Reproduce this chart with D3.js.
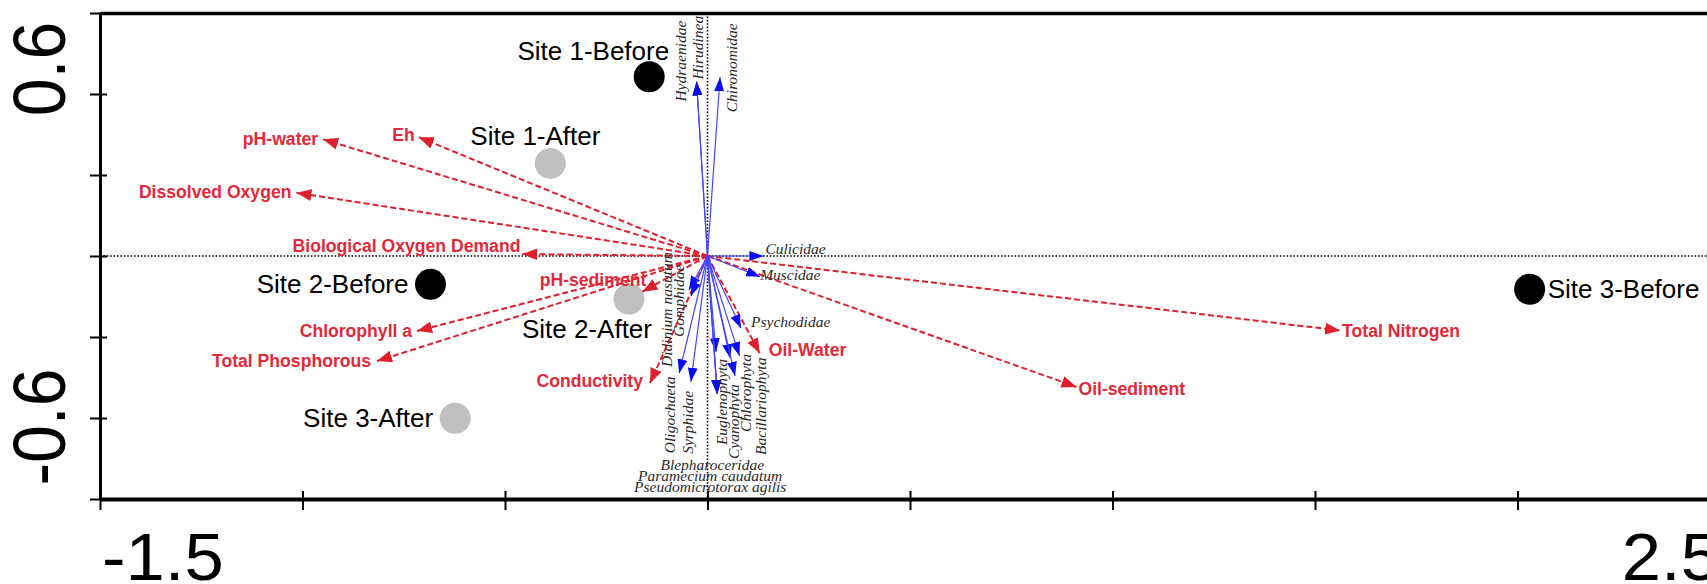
<!DOCTYPE html>
<html><head><meta charset="utf-8">
<script src="https://cdn.jsdelivr.net/npm/d3@7"></script>
<style>html,body{margin:0;padding:0;background:#fff;overflow:hidden}</style>
</head><body>
<svg id="chart" width="1707" height="584"></svg>
<script>
// ---------------- data ----------------
const siteNames  = ["Site 1-Before","Site 1-After","Site 2-Before","Site 2-After","Site 3-Before","Site 3-After"];
const siteX      = [-0.144, -0.388, -0.684, -0.194, 2.030, -0.623];
const siteY      = [ 0.664,  0.343, -0.105, -0.159, -0.123, -0.601];
const sitePeriod = ["Before","After","Before","After","Before","After"];

const envNames = ["pH-water","Eh","Dissolved Oxygen","Biological Oxygen Demand","pH-sediment",
                  "Chlorophyll a","Total Phosphorous","Conductivity","Oil-Water","Oil-sediment","Total Nitrogen"];
const envX = [-0.949, -0.713, -1.015, -0.457, -0.161, -0.717, -0.816, -0.142, 0.129, 0.911, 1.562];
const envY = [ 0.432,  0.440,  0.234,  0.007, -0.132, -0.278, -0.389, -0.471, -0.360, -0.485, -0.276];

const taxaNames = ["Hydraenidae","Hirudinea","Chironomidae","Culicidae","Muscidae","Psychodidae",
                   "Didinium nasutum","Gomphidae","Oligochaeta","Syrphidae","Euglenophyta","Cyanophyta",
                   "Chlorophyta","Bacillariophyta","Blepharoceridae","Paramecium caudatum","Pseudomicrotorax agilis"];
const taxaX = [-0.027, -0.027, 0.031, 0.138, 0.130, 0.083, -0.046, -0.041, -0.070, -0.041, 0.021, 0.056,
               0.079, 0.068, 0.024, 0.024, 0.024];
const taxaY = [ 0.646,  0.646, 0.662, 0.000, -0.077, -0.268, -0.126, -0.148, -0.434, -0.466, -0.356, -0.378,
               -0.370, -0.444, -0.511, -0.511, -0.511];

const xDomain = [-1.5, 2.5];
const yDomain = [-0.9, 0.9];
const xTicks = [-1.5, -1, -0.5, 0, 0.5, 1, 1.5, 2, 2.5];
const yTicks = [-0.9, -0.6, -0.3, 0, 0.3, 0.6, 0.9];
const xTickLabelValues = [-1.5, 2.5];
const xTickLabels = ["-1.5", "2.5"];
const yTickLabelValues = [0.6, -0.6];
const yTickLabels = ["0.6", "-0.6"];

// ---------------- layout / style ----------------
const RED = "#e01f2d", RED_TXT = "#e3283a", BLUE_LINE = "#4646ff", BLUE_HEAD = "#0c0cf2";
const SANS = "'Liberation Sans', Arial, sans-serif";
const SERIF = "'Liberation Serif', 'Times New Roman', serif";

const svg = d3.select("#chart");
svg.append("rect").attr("width",1707).attr("height",584).attr("fill","#fff");

const x = d3.scaleLinear().domain(xDomain).range([100, 1720]);
const y = d3.scaleLinear().domain(yDomain).range([499, 13]);

const defs = svg.append("defs");
function marker(id, color, len, half){
  defs.append("marker").attr("id", id)
    .attr("viewBox", `0 ${-half} ${len} ${half*2}`)
    .attr("refX", len).attr("refY", 0)
    .attr("markerWidth", len).attr("markerHeight", half*2)
    .attr("markerUnits","userSpaceOnUse").attr("orient","auto")
    .append("path").attr("d", `M0,${-half}L${len},0L0,${half}Z`).attr("fill", color);
}
marker("hRed", RED, 15, 6);
marker("hBlue", BLUE_HEAD, 14, 5);

// reference dotted lines
svg.append("line").attr("x1", x(xDomain[0])).attr("x2", 1707).attr("y1", y(0)).attr("y2", y(0))
  .attr("stroke","#000").attr("stroke-width",1.6).attr("stroke-dasharray","1.6,1.8");
svg.append("line").attr("x1", x(0)).attr("x2", x(0)).attr("y1", y(yDomain[1])).attr("y2", y(yDomain[0]))
  .attr("stroke","#000").attr("stroke-width",1.6).attr("stroke-dasharray","1.6,1.8");

// axes
const gx = svg.append("g").attr("transform",`translate(0,${y(yDomain[0])})`)
  .call(d3.axisBottom(x).tickValues(xTicks).tickSize(19).tickSizeOuter(0).tickFormat(""));
gx.select(".domain").attr("stroke","#000").attr("stroke-width",4);
gx.selectAll(".tick line").attr("y1",-8).attr("y2",11).attr("stroke","#000").attr("stroke-width",2);

const gt = svg.append("g").attr("transform",`translate(0,${y(yDomain[1])})`)
  .call(d3.axisTop(x).tickValues([]).tickSizeOuter(0));
gt.select(".domain").attr("stroke","#000").attr("stroke-width",3.5);

const gy = svg.append("g").attr("transform",`translate(${x(xDomain[0])},0)`)
  .call(d3.axisLeft(y).tickValues(yTicks).tickSize(16).tickSizeOuter(0).tickFormat(""));
gy.select(".domain").attr("stroke","#000").attr("stroke-width",3);
gy.selectAll(".tick line").attr("x1",7).attr("x2",-10).attr("stroke","#000").attr("stroke-width",2);

// tick labels
xTickLabelValues.forEach((v,i)=>{
  const first = i===0;
  svg.append("text").text(xTickLabels[i])
    .attr("transform",`translate(${x(v)+(first?2:0)},580) scale(1.07,1)`)
    .attr("text-anchor", first ? "start" : "end")
    .attr("font-family",SANS).attr("font-size",66).attr("fill","#000");
});
const yLabOff = [-25, 9];
yTickLabelValues.forEach((v,i)=>{
  svg.append("text").text(yTickLabels[i])
    .attr("transform",`translate(65,${y(v)+yLabOff[i]}) scale(1.1,1) rotate(-90)`)
    .attr("text-anchor","middle")
    .attr("font-family",SANS).attr("font-size",68).attr("fill","#000");
});

// site points
const sites = siteNames.map((n,i)=>({name:n, x:siteX[i], y:siteY[i], p:sitePeriod[i]}));
svg.append("g").selectAll("circle").data(sites).join("circle")
  .attr("cx", d=>x(d.x)).attr("cy", d=>y(d.y)).attr("r", 15.5)
  .attr("fill", d=> d.p==="Before" ? "#000" : "#c0c0c0");

const siteLab = {
  "Site 1-Before": {a:"end",   dx: 20,  dy:-17},
  "Site 1-After":  {a:"start", dx:-80,  dy:-18},
  "Site 2-Before": {a:"end",   dx:-22,  dy:  9},
  "Site 2-After":  {a:"start", dx:-107, dy: 39},
  "Site 3-Before": {a:"start", dx: 18,  dy:  9},
  "Site 3-After":  {a:"end",   dx:-22,  dy:  9}
};
svg.append("g").selectAll("text").data(sites).join("text")
  .attr("x", d=>x(d.x)+siteLab[d.name].dx).attr("y", d=>y(d.y)+siteLab[d.name].dy)
  .attr("text-anchor", d=>siteLab[d.name].a)
  .attr("font-family",SANS).attr("font-size",26).attr("fill","#000")
  .text(d=>d.name);

// environmental arrows
const env = envNames.map((n,i)=>({name:n, x:envX[i], y:envY[i]}));
svg.append("g").selectAll("line").data(env).join("line")
  .attr("x1", x(0)).attr("y1", y(0)).attr("x2", d=>x(d.x)).attr("y2", d=>y(d.y))
  .attr("stroke", RED).attr("stroke-width", 2).attr("stroke-dasharray","6,3")
  .attr("marker-end","url(#hRed)");

// taxa arrows
const taxa = taxaNames.map((n,i)=>({name:n, x:taxaX[i], y:taxaY[i]}));
svg.append("g").selectAll("line").data(taxa).join("line")
  .attr("x1", x(0)).attr("y1", y(0)).attr("x2", d=>x(d.x)).attr("y2", d=>y(d.y))
  .attr("stroke", BLUE_LINE).attr("stroke-width", 1.2)
  .attr("marker-end","url(#hBlue)");

// env labels
const envLab = {
  "pH-water":                 {a:"end",   dx:-5, dy: 6},
  "Eh":                       {a:"end",   dx:-4, dy: 4},
  "Dissolved Oxygen":         {a:"end",   dx:-5, dy: 5},
  "Biological Oxygen Demand": {a:"end",   dx:-2, dy:-2},
  "pH-sediment":              {a:"end",   dx: 4, dy:-6},
  "Chlorophyll a":            {a:"end",   dx:-5, dy: 6},
  "Total Phosphorous":        {a:"end",   dx:-6, dy: 6},
  "Conductivity":             {a:"end",   dx:-7, dy: 4},
  "Oil-Water":                {a:"start", dx: 9, dy: 3},
  "Oil-sediment":             {a:"start", dx: 2, dy: 8},
  "Total Nitrogen":           {a:"start", dx: 2, dy: 6}
};
svg.append("g").selectAll("text").data(env).join("text")
  .attr("x", d=>x(d.x)+envLab[d.name].dx).attr("y", d=>y(d.y)+envLab[d.name].dy)
  .attr("text-anchor", d=>envLab[d.name].a)
  .attr("font-family",SANS).attr("font-weight","bold").attr("font-size",17.6).attr("fill",RED_TXT)
  .text(d=>d.name);

// taxa labels
const taxLab = {
  "Hydraenidae":       {r:true,  dx:-10.5, dy: 20},
  "Hirudinea":         {r:true,  dx:  6,   dy: -2},
  "Chironomidae":      {r:true,  dx: 17,   dy: 35},
  "Culicidae":         {r:false, a:"start", dx: 2, dy:-2},
  "Muscidae":          {r:false, a:"start", dx: 0, dy: 3},
  "Psychodidae":       {r:false, a:"start", dx:10, dy:-1},
  "Didinium nasutum":  {r:true,  dx:-17,   dy: 77},
  "Gomphidae":         {r:true,  dx: -7,   dy: 41},
  "Oligochaeta":       {r:true,  dx: -4,   dy: 80},
  "Syrphidae":         {r:true,  dx:  2,   dy: 72},
  "Euglenophyta":      {r:true,  dx: 11,   dy: 93},
  "Cyanophyta":        {r:true,  dx:  9,   dy: 101},
  "Chlorophyta":       {r:true,  dx: 11.5, dy: 76},
  "Bacillariophyta":   {r:true,  dx: 30.5, dy: 79},
  "Blepharoceridae":   {r:false, a:"middle", dx:-5, dy: 76},
  "Paramecium caudatum":{r:false, a:"middle", dx:-7, dy: 87},
  "Pseudomicrotorax agilis":{r:false, a:"middle", dx:-7, dy: 98}
};
svg.append("g").selectAll("text").data(taxa).join("text")
  .attr("transform", d=>{
    const L = taxLab[d.name];
    const px = x(d.x)+L.dx, py = y(d.y)+L.dy;
    return L.r ? `translate(${px},${py}) rotate(-90)` : `translate(${px},${py})`;
  })
  .attr("text-anchor", d=> taxLab[d.name].r ? "start" : taxLab[d.name].a)
  .attr("font-family",SERIF).attr("font-style","italic").attr("font-size",15.5).attr("fill","#2a2a2a")
  .text(d=>d.name);
</script>
</body></html>
